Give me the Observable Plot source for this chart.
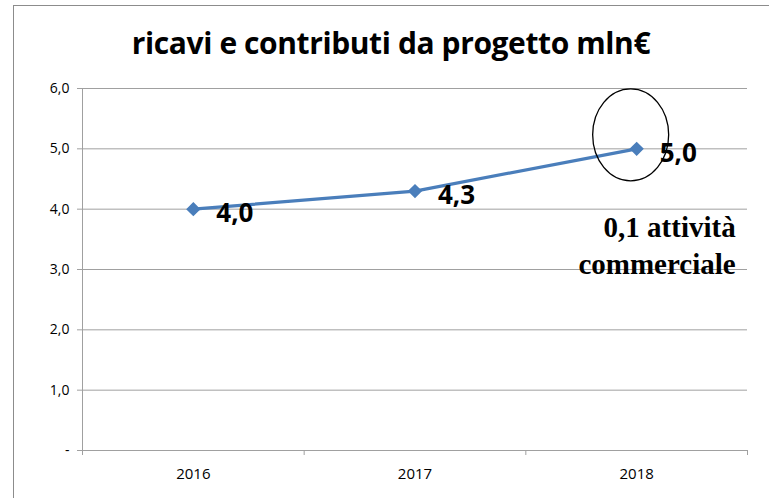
<!DOCTYPE html>
<html>
<head>
<meta charset="utf-8">
<script src="https://cdn.jsdelivr.net/npm/d3@7"></script>
<script src="https://cdn.jsdelivr.net/npm/@observablehq/plot@0.6"></script>
<style>
  html, body { margin: 0; padding: 0; background: #fff; }
  #wrap { position: relative; width: 769px; height: 498px; overflow: hidden; }
  #frame { position: absolute; left: 13px; top: 5px; width: 760px; height: 520px; border: 1px solid #8c8c8c; box-sizing: border-box; }
  #title { position: absolute; left: 0; top: 23px; width: 782px; text-align: center;
    font-family: "Open Sans", sans-serif; font-weight: 700; font-size: 30px; color: #000; letter-spacing: -0.4px; line-height: 40px; }
  #chart { position: absolute; left: 0; top: 0; }
</style>
</head>
<body>
<div id="wrap">
  <div id="frame"></div>
  <div id="chart"></div>
  <div id="title">ricavi e contributi da progetto mln€</div>
</div>
<script>
const years = [2016, 2017, 2018];
const values = [4.0, 4.3, 5.0];
const valueLabels = ["4,0", "4,3", "5,0"];
const yTicks = [0, 1, 2, 3, 4, 5, 6];
const noteText = "0,1 attività\ncommerciale";
const noteYear = 2018;
const noteValue = 5.0;

const data = years.map((y, i) => ({year: y, value: values[i], label: valueLabels[i]}));
const bounds = [years[0] - 0.5, ...years.map(y => y + 0.5)];

const ellipse = {
  draw(ctx) {
    const rx = 38, ry = 46, k = 0.5523;
    ctx.moveTo(rx, 0);
    ctx.bezierCurveTo(rx, ry * k, rx * k, ry, 0, ry);
    ctx.bezierCurveTo(-rx * k, ry, -rx, ry * k, -rx, 0);
    ctx.bezierCurveTo(-rx, -ry * k, -rx * k, -ry, 0, -ry);
    ctx.bezierCurveTo(rx * k, -ry, rx, -ry * k, rx, 0);
    ctx.closePath();
  }
};

const chart = Plot.plot({
  width: 769,
  height: 498,
  marginLeft: 82,
  marginRight: 22,
  marginTop: 88,
  marginBottom: 48,
  style: {fontFamily: "Open Sans, sans-serif", fontSize: "14px", color: "#000", background: "transparent"},
  x: {domain: [bounds[0], bounds[bounds.length - 1]], axis: null},
  y: {domain: [0, 6], axis: null},
  marks: [
    Plot.gridY(yTicks.slice(1), {stroke: "#a0a0a0", strokeOpacity: 1, strokeWidth: 1}),
    Plot.axisY(yTicks, {tickSize: 5, tickPadding: 8, stroke: "#a0a0a0", label: null,
      tickFormat: d => d === 0 ? "-" : d.toFixed(1).replace(".", ","), fontSize: 14}),
    Plot.ruleX([bounds[0]], {stroke: "#a0a0a0"}),
    Plot.ruleY([0], {stroke: "#a0a0a0"}),
    Plot.axisX(bounds, {tickSize: 5, stroke: "#a0a0a0", label: null, tickFormat: () => ""}),
    Plot.axisX(years, {tickSize: 0, tickPadding: 18, label: null, tickFormat: d => String(d), fontSize: 15}),
    Plot.line(data, {x: "year", y: "value", stroke: "#4a7ebb", strokeWidth: 3.2}),
    Plot.dot(data, {x: "year", y: "value", symbol: "diamond2", r: 5.5, fill: "#4a7ebb", stroke: "#4a7ebb"}),
    Plot.text(data, {x: "year", y: "value", text: "label", textAnchor: "start", dx: 23, dy: 5,
      fontSize: 26, fontWeight: "bold", fill: "#000"}),
    Plot.dot([{year: noteYear, value: noteValue}], {x: "year", y: "value", symbol: ellipse,
      fill: "none", stroke: "#000", strokeWidth: 1.3, dx: -6, dy: -14}),
    Plot.text([{year: noteYear, value: noteValue}], {x: "year", y: "value", text: () => noteText,
      textAnchor: "end", dx: 99, dy: 95, lineHeight: 1.25, fontSize: 29, fontWeight: "bold",
      fontFamily: "Liberation Serif, serif", fill: "#000"})
  ]
});
document.getElementById("chart").appendChild(chart);
</script>
</body>
</html>
